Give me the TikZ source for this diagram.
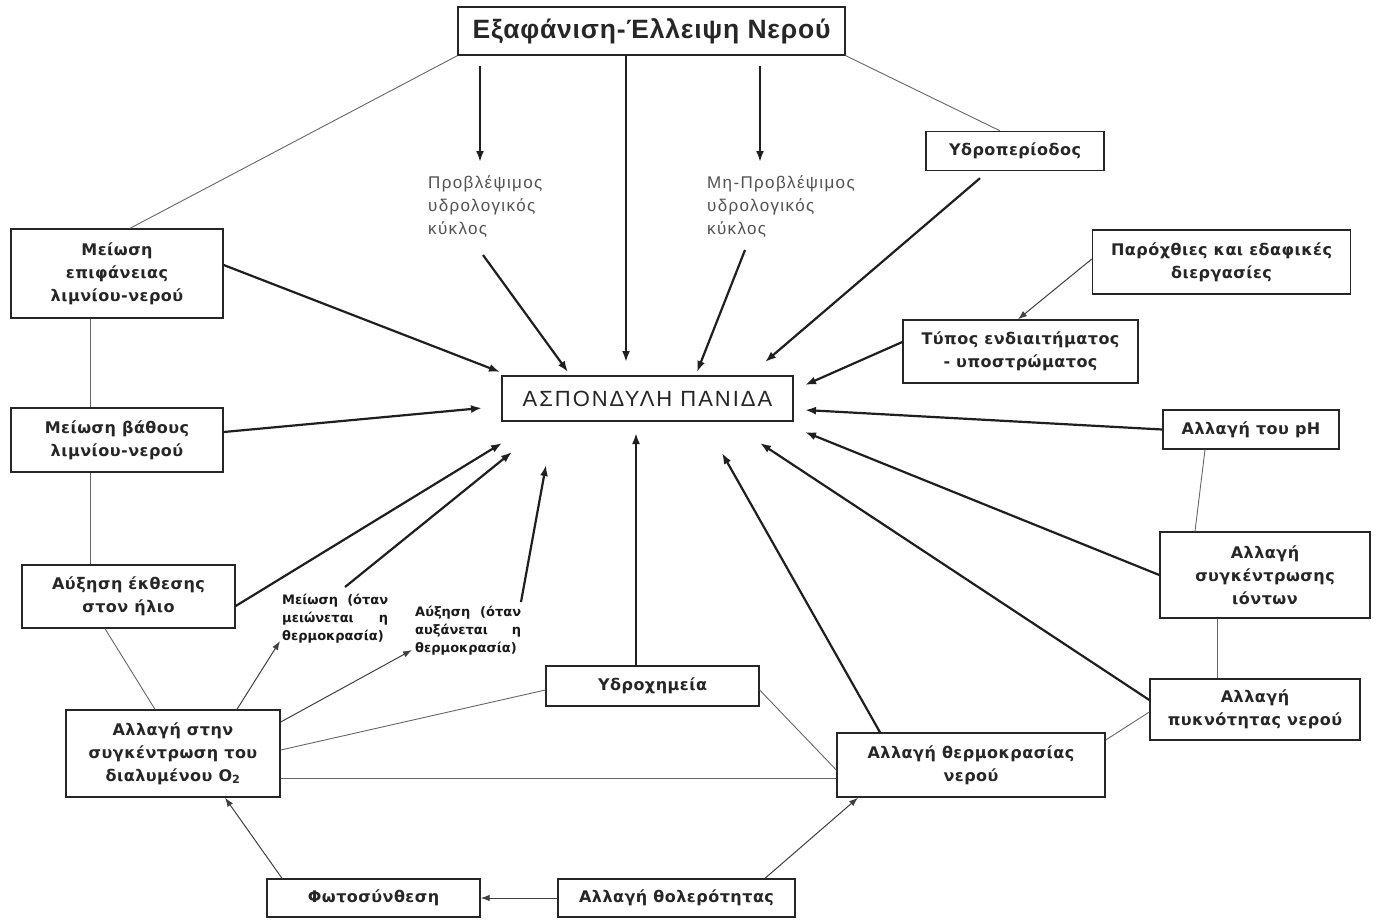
\documentclass[tikz,border=0pt]{standalone}
\usepackage{fontspec}
\setmainfont{Liberation Sans}
\newfontfamily\boxfont[LetterSpace=3]{DejaVu Sans}
\newfontfamily\smallfont{DejaVu Sans}
\newfontfamily\grayfont[LetterSpace=8]{Liberation Sans}
\newfontfamily\titlefont[LetterSpace=3]{Liberation Sans}
\newfontfamily\aspfont[LetterSpace=9]{Liberation Sans}
\usetikzlibrary{arrows.meta}
\begin{document}
\begin{tikzpicture}[x=1pt,y=-1pt,
  bx/.style 2 args={draw=black!85, line width=1.4pt, fill=white, align=center, inner sep=0pt,
     minimum width=#1, minimum height=#2, text=black!85,
     font=\boxfont\bfseries\fontsize{16}{23}\selectfont},
  glab/.style={anchor=north west, align=left, inner sep=0pt, text=black!68,
     font=\grayfont\fontsize{17}{23.3}\selectfont},
  blab/.style={anchor=north west, inner sep=0pt, text=black!90, align=left,
     font=\smallfont\bfseries\fontsize{13}{18}\selectfont},
  arr/.style={line width=2.2pt, draw=black!88, -{Latex[length=11pt,width=8pt]}},
  ln/.style={line width=0.9pt, draw=black!60},
  tarr/.style={line width=1pt, draw=black!75, -{Latex[length=9pt,width=6.5pt]}}]
\useasboundingbox (0,0) rectangle (1380,919);
\fill[white] (0,0) rectangle (1380,919);

% boxes
\node[bx={387pt}{48pt}, font=\titlefont\bfseries\fontsize{26.5}{30}\selectfont] (top) at (651.5,31) {Εξαφάνιση-Έλλειψη Νερού};
\node[bx={291pt}{45pt}, line width=2.6pt, font=\aspfont\fontsize{22}{25}\selectfont] (asp) at (647.5,398.5) {ΑΣΠΟΝΔΥΛΗ ΠΑΝΙΔΑ};
\node[bx={212pt}{89pt}] (epif) at (117,273.5) {Μείωση\\επιφάνειας\\λιμνίου-νερού};
\node[bx={212pt}{64pt}] (vath) at (117,440) {Μείωση βάθους\\λιμνίου-νερού};
\node[bx={213pt}{63pt}] (ekth) at (128.5,596.5) {Αύξηση έκθεσης\\στον ήλιο};
\node[bx={214pt}{87pt}] (oxy) at (173,753.5) {Αλλαγή στην\\συγκέντρωση του\\διαλυμένου O\textsubscript{2}};
\node[bx={213pt}{38pt}] (fotos) at (373.5,898) {Φωτοσύνθεση};
\node[bx={237pt}{38pt}] (thol) at (676.5,898) {Αλλαγή θολερότητας};
\node[bx={268pt}{64pt}] (therm) at (971,765) {Αλλαγή θερμοκρασίας\\νερού};
\node[bx={213pt}{40pt}] (ydroch) at (652.5,686) {Υδροχημεία};
\node[bx={210pt}{61pt}] (pykn) at (1255,709.5) {Αλλαγή\\πυκνότητας νερού};
\node[bx={210pt}{86pt}] (ionton) at (1265,575) {Αλλαγή\\συγκέντρωσης\\ιόντων};
\node[bx={176pt}{39pt}] (ph) at (1251,429.5) {Αλλαγή του pH};
\node[bx={235pt}{63pt}] (typos) at (1020.5,351.5) {Τύπος ενδιαιτήματος\\- υποστρώματος};
\node[bx={258pt}{64pt}] (paro) at (1221.5,262) {Παρόχθιες και εδαφικές\\διεργασίες};
\node[bx={178pt}{39pt}] (ydroper) at (1015,151) {Υδροπερίοδος};

% free labels
\node[glab] (prob) at (428,175) {Προβλέψιμος\\υδρολογικός\\κύκλος};
\node[glab] (mprob) at (707,175) {Μη-Προβλέψιμος\\υδρολογικός\\κύκλος};
\node[blab] (meio) at (282,594) {\makebox[106pt][s]{Μείωση (όταν}\\\makebox[106pt][s]{μειώνεται η}\\\makebox[106pt][l]{θερμοκρασία)}};
\node[blab] (afx) at (415,606) {\makebox[106pt][s]{Αύξηση (όταν}\\\makebox[106pt][s]{αυξάνεται η}\\\makebox[106pt][l]{θερμοκρασία)}};

% coordinates
\coordinate (pa) at (480,162);
\coordinate (pb) at (760,162);
\coordinate (ps) at (483,255);
\coordinate (ms) at (745,250);
\coordinate (mes) at (345,587);
\coordinate (afs) at (521,602);
\coordinate (mee) at (280,641);
\coordinate (afe) at (412,650);
\coordinate (tA) at (500,372);
\coordinate (tB) at (482,408);
\coordinate (tC) at (502,443);
\coordinate (tD) at (512,452);
\coordinate (tE) at (546,465);
\coordinate (tF) at (636,433);
\coordinate (tG) at (722,453);
\coordinate (tH) at (760,443);
\coordinate (tI) at (805,432);
\coordinate (tJ) at (805,410);
\coordinate (tK) at (805,385);
\coordinate (tL) at (765,362);
\coordinate (tM) at (697,372);
\coordinate (tN) at (568,372);
\coordinate (tO) at (626,362);

% thin connecting lines
\draw[ln] (top.south west) -- ([xshift=13pt]epif.north);
\draw[ln] (top.south east) -- ([xshift=-15pt]ydroper.north);
\draw[ln] ([xshift=-27pt]epif.south) -- ([xshift=-27pt]vath.north);
\draw[ln] ([xshift=-27pt]vath.south) -- ([xshift=-38.5pt]ekth.north);
\draw[ln] ([xshift=-23.5pt]ekth.south) -- ([xshift=-18pt]oxy.north);
\draw[ln] ([yshift=3.5pt]oxy.east) -- ([yshift=-4pt]ydroch.west);
\draw[ln] ([yshift=-24.5pt]oxy.east) -- ([yshift=-13pt]therm.west);
\draw[ln] ([yshift=-4pt]ydroch.east) -- ([yshift=-5pt]therm.west);
\draw[ln] ([yshift=25pt]therm.east) -- ([yshift=-2.5pt]pykn.west);
\draw[ln] ([xshift=-46pt]ph.south) -- ([xshift=-70pt]ionton.north);
\draw[ln] ([xshift=-48pt]ionton.south) -- ([xshift=-38pt]pykn.north);

% thick arrows into ASPONDYLH
\draw[arr] ([xshift=-25.5pt]top.south) -- (tO);
\draw[arr] ([xshift=-171.5pt,yshift=-10pt]top.south) -- (pa);
\draw[arr] ([xshift=108.5pt,yshift=-10pt]top.south) -- (pb);
\draw[arr] (ps) -- (tN);
\draw[arr] (ms) -- (tM);
\draw[arr] ([xshift=-35pt,yshift=-7pt]ydroper.south) -- (tL);
\draw[arr] ([yshift=9.5pt]typos.west) -- (tK);
\draw[arr] (ph.west) -- (tJ);
\draw[arr] (ionton.west) -- (tI);
\draw[arr] ([yshift=9.5pt]pykn.west) -- (tH);
\draw[arr] ([xshift=-91pt]therm.north) -- (tG);
\draw[arr] ([xshift=-16.5pt]ydroch.north) -- (tF);
\draw[arr] ([yshift=8.5pt]epif.east) -- (tA);
\draw[arr] ([yshift=8pt]vath.east) -- (tB);
\draw[arr] ([yshift=-9.5pt]ekth.east) -- (tC);
\draw[arr] (mes) -- (tD);
\draw[arr] (afs) -- (tE);

% thin arrows
\draw[tarr] ([yshift=3pt]paro.west) -- ([xshift=-2.5pt]typos.north);
\draw[tarr] ([xshift=64pt]oxy.north) -- (mee);
\draw[tarr] ([yshift=31.5pt]oxy.east) -- (afe);
\draw[tarr] ([xshift=-91.5pt]fotos.north) -- ([xshift=52pt]oxy.south);
\draw[tarr] (thol.west) -- (fotos.east);
\draw[tarr] ([xshift=88.5pt]thol.north) -- ([xshift=-113pt]therm.south);
\end{tikzpicture}
\end{document}
